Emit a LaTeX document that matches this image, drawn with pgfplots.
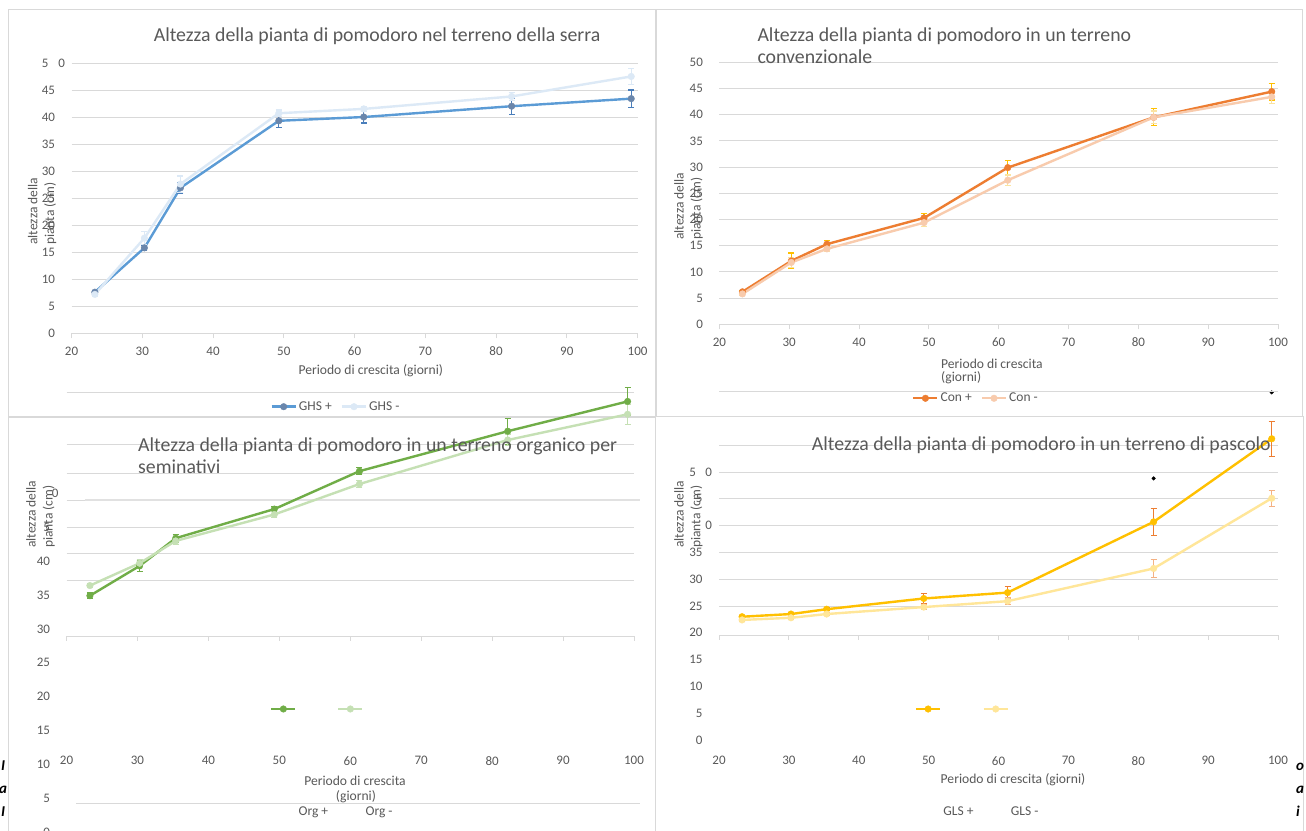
\documentclass[border=0pt]{standalone}
\usepackage{fontspec}
\setmainfont{Carlito}
\usepackage{pgfplots}
\pgfplotsset{compat=1.18}
\definecolor{txt}{HTML}{595959}
\definecolor{gridc}{HTML}{D9D9D9}
\definecolor{framec}{HTML}{D9D9D9}
\definecolor{ghsP}{HTML}{5B9BD5}
\definecolor{ghsPm}{HTML}{6A86AB}
\definecolor{ghsPe}{HTML}{4A7EBB}
\definecolor{ghsM}{HTML}{DCE9F6}
\definecolor{conP}{HTML}{ED7D31}
\definecolor{conM}{HTML}{F8CBAD}
\definecolor{conPe}{HTML}{FFC000}
\definecolor{conMe}{HTML}{FBE3A0}
\definecolor{orgP}{HTML}{70AD47}
\definecolor{orgM}{HTML}{C5E0B4}
\definecolor{glsP}{HTML}{FFC000}
\definecolor{glsM}{HTML}{FFE699}
\definecolor{glsPe}{HTML}{ED7D31}
\definecolor{glsMe}{HTML}{F4B183}
\pgfplotsset{
  base/.style={scale only axis, anchor=south west, xmin=20, xmax=100,
    xtick={20,30,...,100}, ymin=0,
    /pgf/number format/assume math mode=true,
    tick label style={font=\fontsize{13}{15}\selectfont, text=txt},
    major grid style={gridc, line width=0.8pt},
    tick align=outside, major tick length=5pt,
    legend columns=2,
    legend style={draw=none, fill=none, inner sep=0pt, outer sep=0pt,
      font=\fontsize{13.5}{16}\selectfont, text=txt, anchor=west,
      /tikz/every even column/.append style={column sep=7pt}},
    legend cell align=left,
    legend image code/.code={\draw[mark repeat=2,mark phase=2] plot coordinates {(0pt,0pt) (12pt,0pt) (24pt,0pt)};},
  },
  ser/.style n args={3}{color=#1, line width=2.4pt, mark=*, mark size=3.3pt,
    mark options={solid, fill=#2, draw=#2, line width=0.4pt},
    error bars/y dir=both, error bars/y explicit,
    error bars/error bar style={color=#3, line width=1.1pt},
    error bars/error mark options={rotate=90, mark size=3pt, color=#3, line width=1.1pt}},
}
\begin{document}
\begin{tikzpicture}[x=1pt,y=1pt]
\useasboundingbox (0,0) rectangle (1306,830);
\clip (0,0) rectangle (1306,830);
\fill[white] (0,0) rectangle (1306,830);
% frames
\draw[framec, line width=1pt] (8,820) rectangle (656,413);
\draw[framec, line width=1pt] (655,820) rectangle (1302,413);
\draw[framec, line width=1pt] (8,412) -- (8,-5);
\draw[framec, line width=1pt] (8,412) -- (655,412) -- (655,-5);
\draw[framec, line width=1pt] (655,413) -- (1303,413) -- (1303,-5);

% ===== Panel A =====
\begin{axis}[base, at={(71.5pt,496.7pt)}, width=566.1pt, height=270.35pt, ymax=50,
  ytick={0,5,...,50},
  yticklabels={0,5,10,15,20,25,30,35,40,45,{5\phantom{0}\rlap{\hspace{3.5pt}0}}},
  ymajorgrids, axis x line*=bottom, axis y line*=left,
  y axis line style={draw=none}, x axis line style={draw=gridc, line width=0.8pt},
  ytick style={draw=none}, xtick style={draw=gridc, line width=0.8pt},
  yticklabel style={xshift=-8pt}, xticklabel style={yshift=-5pt},
  legend style={at={(0.3515,-0.2715)}}]
\addplot[ser={ghsP}{ghsPm}{ghsPe}] coordinates {(23.3,7.6)+-(0,0.3) (30.3,15.8)+-(0,0.5) (35.4,26.9)+-(0,1.0) (49.3,39.3)+-(0,1.3) (61.3,40.0)+-(0,1.1) (82.2,42.0)+-(0,1.5) (99.1,43.4)+-(0,1.6)};
\addlegendentry{GHS +}
\addplot[ser={ghsM}{ghsM}{ghsM}] coordinates {(23.3,7.2)+-(0,0.3) (30.3,17.6)+-(0,1.2) (35.4,27.6)+-(0,1.5) (49.3,40.7)+-(0,0.6) (61.3,41.5)+-(0,0.5) (82.2,43.8)+-(0,0.8) (99.1,47.5)+-(0,1.5)};
\addlegendentry{GHS -}
\end{axis}

% ===== Panel B =====
\begin{axis}[base, at={(719.4pt,505.7pt)}, width=558.6pt, height=262pt, ymax=50,
  ytick={0,5,...,50}, clip=false,
  ymajorgrids, axis x line*=bottom, axis y line*=left,
  y axis line style={draw=none}, x axis line style={draw=gridc, line width=0.8pt},
  ytick style={draw=none}, xtick style={draw=gridc, line width=0.8pt},
  yticklabel style={xshift=-8pt}, xticklabel style={yshift=-5pt},
  legend style={at={(0.3452,-0.2824)}}]
\addplot[ser={conP}{conP}{conPe}] coordinates {(23.3,6.2)+-(0,0.3) (30.3,12.1)+-(0,1.5) (35.4,15.3)+-(0,0.7) (49.3,20.3)+-(0,0.8) (61.3,29.9)+-(0,1.3) (82.2,39.5)+-(0,1.6) (99.1,44.4)+-(0,1.6)};
\addlegendentry{Con +}
\addplot[ser={conM}{conM}{conMe}] coordinates {(23.3,5.8)+-(0,0.3) (30.3,11.8)+-(0,1.0) (35.4,14.4)+-(0,0.5) (49.3,19.4)+-(0,0.8) (61.3,27.5)+-(0,1.0) (82.2,39.5)+-(0,1.2) (99.1,43.4)+-(0,1.2)};
\addlegendentry{Con -}
\addplot[only marks, mark=*, black, mark size=1.8pt, forget plot] coordinates {(99.1,-13.0)};
\end{axis}

% ===== Panel C =====
\begin{axis}[base, at={(66.5pt,-2pt)}, width=567.5pt, height=446.82pt, ymax=66, clip=false,
  ytick={0,5,...,50},
  yticklabels={0,5,10,15,20,25,30,35,40,{\phantom{4}5},{\phantom{5}\phantom{0}\rlap{\hspace{2pt}0}}},
  extra y ticks={64.9,57.2,53.0,49.0,45.05,41.2,37.1},
  extra y tick labels={},
  extra y tick style={ymajorgrids=true, ytick style={draw=none}},
  axis line style={draw=none}, ytick style={draw=none}, xtick style={draw=none},
  yticklabel style={xshift=-8pt}, xticklabel style={yshift=84pt},
  legend style={at={(0.3589,0.2753)}}]
\draw[gridc, line width=1pt] (axis cs:20,28.95) -- (axis cs:100,28.95);
\draw[gridc!80!white, line width=2.2pt] (axis cs:22.6,49.0) -- (axis cs:100.8,49.0);
\pgfplotsinvokeforeach{20,30,...,100}{\draw[gridc, line width=0.8pt] (axis cs:#1,28.95) -- ([yshift=-5pt]axis cs:#1,28.95);}
\addplot[ser={orgP}{orgP}{orgP}] coordinates {(23.3,34.9)+-(0,0.4) (30.3,39.3)+-(0,0.8) (35.4,43.4)+-(0,0.6) (49.3,47.7)+-(0,0.4) (61.3,53.3)+-(0,0.5) (82.2,59.2)+-(0,1.9) (99.1,63.6)+-(0,2.0)};
\addlegendentry{\raisebox{-107pt}[0pt][0pt]{Org +}}
\addplot[ser={orgM}{orgM}{orgM}] coordinates {(23.3,36.4)+-(0,0.3) (30.3,39.7)+-(0,0.5) (35.4,43.0)+-(0,0.5) (49.3,46.9)+-(0,0.4) (61.3,51.4)+-(0,0.5) (82.2,57.9)+-(0,0.8) (99.1,61.7)+-(0,1.5)};
\addlegendentry{\raisebox{-107pt}[0pt][0pt]{Org -}}
\end{axis}

% ===== Panel D =====
\begin{axis}[base, at={(719pt,90pt)}, width=559pt, height=353.76pt, ymax=66, clip=false,
  ytick={0,5,...,50},
  yticklabels={0,5,10,15,20,25,30,35,{\phantom{0}\rlap{\hspace{3pt}0}},{\phantom{4}5},{5\phantom{0}\rlap{\hspace{3pt}0}}},
  extra y ticks={25,30,35,40,45,50,55,65},
  extra y tick labels={},
  extra y tick style={ymajorgrids=true, ytick style={draw=none}},
  axis line style={draw=none}, ytick style={draw=none}, xtick style={draw=none},
  yticklabel style={xshift=-8pt}, xticklabel style={yshift=-8pt},
  legend style={at={(0.3505,0.0876)}}]
\draw[gridc, line width=1pt] (axis cs:20,19.5) -- (axis cs:100,19.5);
\pgfplotsinvokeforeach{20,30,...,100}{\draw[gridc, line width=0.8pt] (axis cs:#1,19.5) -- ([yshift=-5pt]axis cs:#1,19.5);}
\addplot[ser={glsP}{glsP}{glsPe}] coordinates {(23.3,23.0)+-(0,0.3) (30.3,23.5)+-(0,0.3) (35.4,24.4)+-(0,0.3) (49.3,26.4)+-(0,1.0) (61.3,27.5)+-(0,1.1) (82.2,40.7)+-(0,2.5) (99.1,56.2)+-(0,3.3)};
\addlegendentry{\raisebox{-107pt}[0pt][0pt]{GLS +}}
\addplot[ser={glsM}{glsM}{glsMe}] coordinates {(23.3,22.4)+-(0,0.3) (30.3,22.8)+-(0,0.3) (35.4,23.5)+-(0,0.3) (49.3,24.8)+-(0,0.5) (61.3,25.9)+-(0,0.6) (82.2,32.0)+-(0,1.6) (99.1,45.1)+-(0,1.5)};
\addlegendentry{\raisebox{-107pt}[0pt][0pt]{GLS -}}
\addplot[only marks, mark=*, black, mark size=1.8pt, forget plot] coordinates {(82.2,48.8)};
\end{axis}

% ===== texts =====
\begin{scope}[every node/.style={text=txt, inner sep=0pt}]
\node[anchor=base west, font=\fontsize{19.8}{23}\selectfont] at (153.6,788.3) {Altezza della pianta di pomodoro nel terreno della serra};
\node[anchor=base west, font=\fontsize{19.8}{23}\selectfont] at (757.3,788.3) {Altezza della pianta di pomodoro in un terreno};
\node[anchor=base west, font=\fontsize{19.8}{23}\selectfont] at (757.3,766.7) {convenzionale};
\node[anchor=base west, font=\fontsize{19.8}{23}\selectfont] at (138,378.3) {Altezza della pianta di pomodoro in un terreno organico per};
\node[anchor=base west, font=\fontsize{19.8}{23}\selectfont] at (138,356.7) {seminativi};
\node[anchor=base west, font=\fontsize{19.8}{23}\selectfont] at (811.7,379.3) {Altezza della pianta di pomodoro in un terreno di pascolo};
% x labels
\node[anchor=base, font=\fontsize{13.6}{16}\selectfont] at (370.8,455) {Periodo di crescita (giorni)};
\node[anchor=base west, font=\fontsize{13.6}{16}\selectfont] at (941,461.7) {Periodo di crescita};
\node[anchor=base west, font=\fontsize{13.6}{16}\selectfont] at (941,448.3) {(giorni)};
\node[anchor=base, font=\fontsize{13.6}{16}\selectfont] at (355,45) {Periodo di crescita};
\node[anchor=base, font=\fontsize{13.6}{16}\selectfont] at (356,30) {(giorni)};
\node[anchor=base, font=\fontsize{13.6}{16}\selectfont] at (1013,46.7) {Periodo di crescita (giorni)};
% y labels
\node[rotate=90, anchor=west, align=left, font=\fontsize{13.5}{16.8}\selectfont] at (42.1,585) {altezza della\\pianta (cm)};
\node[rotate=90, anchor=west, align=left, font=\fontsize{13.5}{16.8}\selectfont] at (688.5,590) {altezza della\\pianta (cm)};
\node[rotate=90, anchor=west, align=left, font=\fontsize{13.5}{16.8}\selectfont] at (40.5,282) {altezza della\\pianta (cm)};
\node[rotate=90, anchor=west, align=left, font=\fontsize{13.5}{16.8}\selectfont] at (688.3,282) {altezza della\\pianta (cm)};
\end{scope}
% stray lines
\draw[gridc, line width=0.8pt] (76,27) -- (640,27);
% edge fragments
\begin{scope}[every node/.style={text=black, inner sep=0pt, font=\fontsize{15}{18}\bfseries\itshape}]
\node[anchor=base] at (3,60) {I};
\node[anchor=base] at (3,37) {a};
\node[anchor=base] at (3,14) {I};
\node[anchor=base west] at (1296,60) {o};
\node[anchor=base west] at (1296,37) {a};
\node[anchor=base west] at (1296,14) {i};
\end{scope}
\end{tikzpicture}
\end{document}
